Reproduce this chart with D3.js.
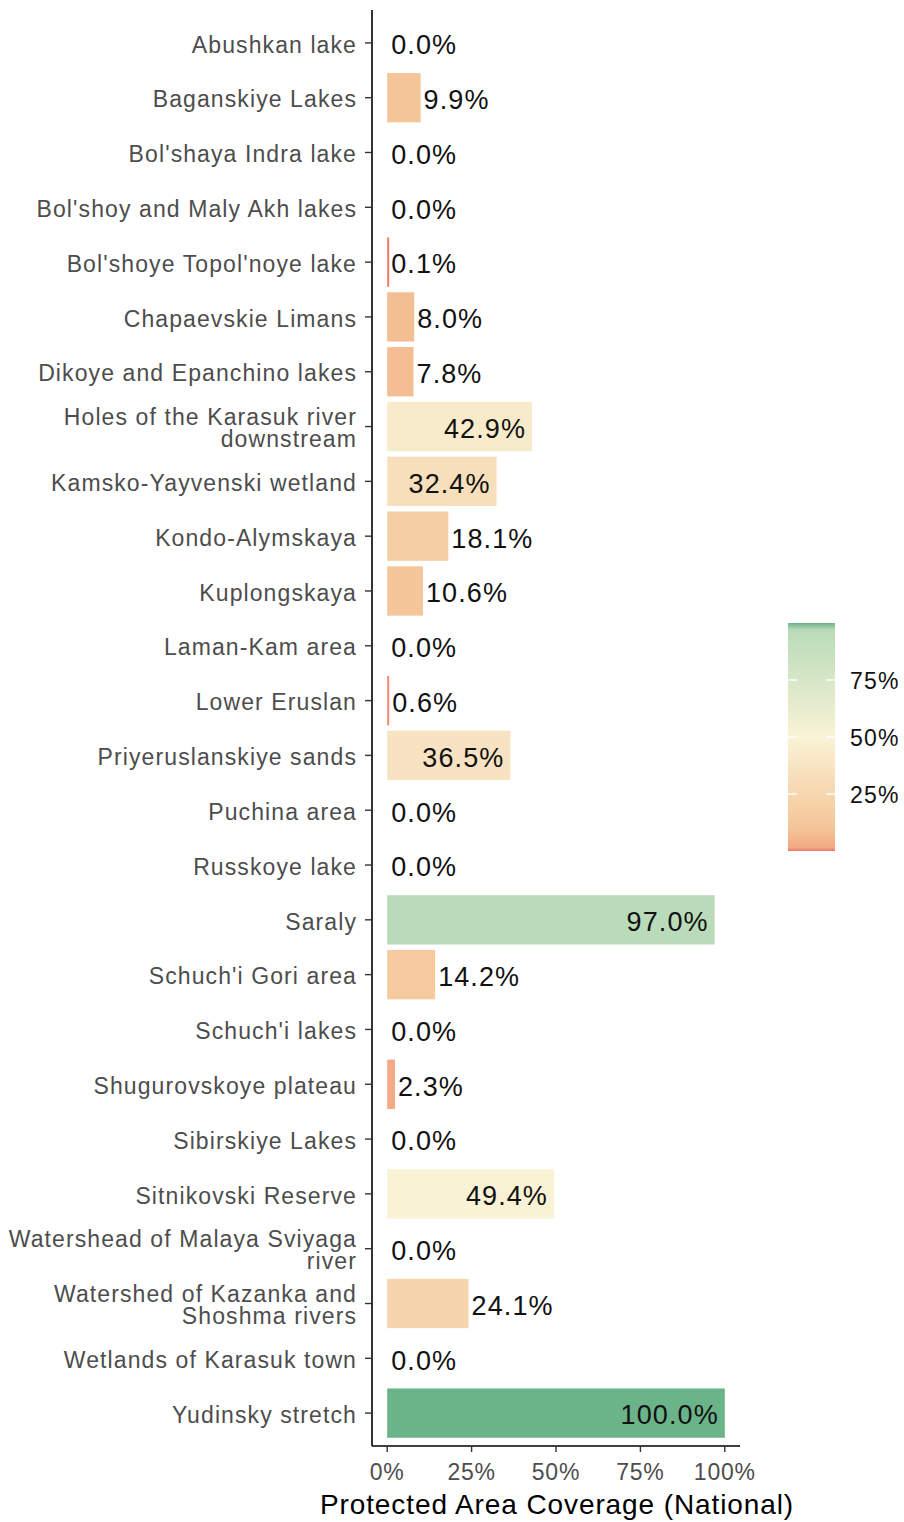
<!DOCTYPE html>
<html>
<head>
<meta charset="utf-8">
<script src="https://cdn.jsdelivr.net/npm/d3@7"></script>
<style>
  html, body { margin: 0; padding: 0; background: #fff; }
  svg { display: block; font-family: "Liberation Sans", Arial, sans-serif; }
</style>
</head>
<body>
<svg id="chart" width="904" height="1522"></svg>
<script>
const categories = [
  "Abushkan lake", "Baganskiye Lakes", "Bol'shaya Indra lake", "Bol'shoy and Maly Akh lakes",
  "Bol'shoye Topol'noye lake", "Chapaevskie Limans", "Dikoye and Epanchino lakes",
  "Holes of the Karasuk river\ndownstream", "Kamsko-Yayvenski wetland", "Kondo-Alymskaya",
  "Kuplongskaya", "Laman-Kam area", "Lower Eruslan", "Priyeruslanskiye sands", "Puchina area",
  "Russkoye lake", "Saraly", "Schuch'i Gori area", "Schuch'i lakes", "Shugurovskoye plateau",
  "Sibirskiye Lakes", "Sitnikovski Reserve", "Watershead of Malaya Sviyaga\nriver",
  "Watershed of Kazanka and\nShoshma rivers", "Wetlands of Karasuk town", "Yudinsky stretch"
];
const coverage = [0.0, 9.9, 0.0, 0.0, 0.1, 8.0, 7.8, 42.9, 32.4, 18.1, 10.6, 0.0, 0.6, 36.5, 0.0,
  0.0, 97.0, 14.2, 0.0, 2.3, 0.0, 49.4, 0.0, 24.1, 0.0, 100.0];
const xTicks = [0, 25, 50, 75, 100];
const legendTicks = [25, 50, 75];
const colorStops = [0, 1.5, 10, 50, 97, 100];
const colorRange = ["#f07565", "#f3a883", "#f4c598", "#f9f3d6", "#b9dbb9", "#6bb48a"];

const data = categories.map((c, i) => ({ cat: c, v: coverage[i] }));
const svg = d3.select("#chart");

const x = d3.scaleLinear().domain([-4.5, 104.5]).range([372, 740]);
const y = d3.scaleBand().domain(categories).range([10, 1446]).paddingInner(0.1).paddingOuter(0.15);
const color = d3.scaleLinear().domain(colorStops).range(colorRange).interpolate(d3.interpolateRgb);

// bars
svg.append("g").selectAll("rect").data(data).join("rect")
  .attr("x", x(0))
  .attr("y", d => y(d.cat))
  .attr("height", y.bandwidth())
  .attr("width", d => d.v > 0 ? Math.max(2, x(d.v) - x(0)) : 0)
  .attr("fill", d => color(d.v));

// bar labels
svg.append("g").selectAll("text").data(data).join("text")
  .attr("x", d => d.v >= 30 ? x(d.v) - 6 : Math.max(x(d.v), x(0) + 1) + 3)
  .attr("y", d => y(d.cat) + y.bandwidth() / 2)
  .attr("dy", "0.42em")
  .attr("text-anchor", d => d.v >= 30 ? "end" : "start")
  .style("font-size", "27px")
  .style("letter-spacing", "1.1px")
  .attr("fill", "#111")
  .text(d => d.v.toFixed(1) + "%");

// y axis
const yAxis = svg.append("g");
yAxis.append("line").attr("x1", 372).attr("x2", 372).attr("y1", 10).attr("y2", 1446)
  .attr("stroke", "#000").attr("stroke-width", 1.6);
const yt = yAxis.selectAll("g.tick").data(categories).join("g").attr("class", "tick")
  .attr("transform", d => `translate(0,${y(d) + y.bandwidth() / 2})`);
yt.append("line").attr("x1", 365).attr("x2", 372).attr("stroke", "#333").attr("stroke-width", 1.4);
yt.each(function(d) {
  const lines = d.split("\n");
  const t = d3.select(this).append("text")
    .attr("x", 357).attr("text-anchor", "end")
    .style("font-size", "23px").style("letter-spacing", "1.1px")
    .attr("fill", "#4d4d4d");
  const lh = 22;
  lines.forEach((l, i) => {
    t.append("tspan").attr("x", 357)
      .attr("y", (i - (lines.length - 1) / 2) * lh)
      .attr("dy", "0.42em").text(l);
  });
});

// x axis
const xAxis = svg.append("g");
xAxis.append("line").attr("x1", 372).attr("x2", 740).attr("y1", 1446).attr("y2", 1446)
  .attr("stroke", "#000").attr("stroke-width", 1.6);
const xt = xAxis.selectAll("g.tick").data(xTicks).join("g").attr("class", "tick")
  .attr("transform", d => `translate(${x(d)},1446)`);
xt.append("line").attr("y1", 0).attr("y2", 6).attr("stroke", "#333").attr("stroke-width", 1.4);
xt.append("text").attr("y", 26).attr("dy", "0.36em").attr("text-anchor", "middle")
  .style("font-size", "23px").style("letter-spacing", "0.8px")
  .attr("fill", "#4d4d4d").text(d => d + "%");

svg.append("text").attr("x", 557).attr("y", 1514).attr("text-anchor", "middle")
  .style("font-size", "28px").style("letter-spacing", "0.9px").attr("fill", "#000")
  .text("Protected Area Coverage (National)");

// legend
const ly = d3.scaleLinear().domain([0, 100]).range([851, 623]);
const defs = svg.append("defs");
const grad = defs.append("linearGradient").attr("id", "lg")
  .attr("x1", 0).attr("y1", 1).attr("x2", 0).attr("y2", 0);
d3.range(0, 101, 0.5).forEach(v => {
  grad.append("stop").attr("offset", (v / 100)).attr("stop-color", color(v));
});
const lx0 = 788, lx1 = 835;
svg.append("rect").attr("x", lx0).attr("y", ly(100)).attr("width", lx1 - lx0)
  .attr("height", ly(0) - ly(100)).attr("fill", "url(#lg)");
const lt = svg.append("g").selectAll("g").data(legendTicks).join("g")
  .attr("transform", d => `translate(0,${ly(d)})`);
lt.append("line").attr("x1", lx0).attr("x2", lx0 + 9).attr("stroke", "#fff").attr("stroke-width", 1.4);
lt.append("line").attr("x1", lx1 - 9).attr("x2", lx1).attr("stroke", "#fff").attr("stroke-width", 1.4);
lt.append("text").attr("x", 850).attr("dy", "0.4em")
  .style("font-size", "23px").style("letter-spacing", "1.2px").attr("fill", "#111")
  .text(d => d + "%");
</script>
</body>
</html>
